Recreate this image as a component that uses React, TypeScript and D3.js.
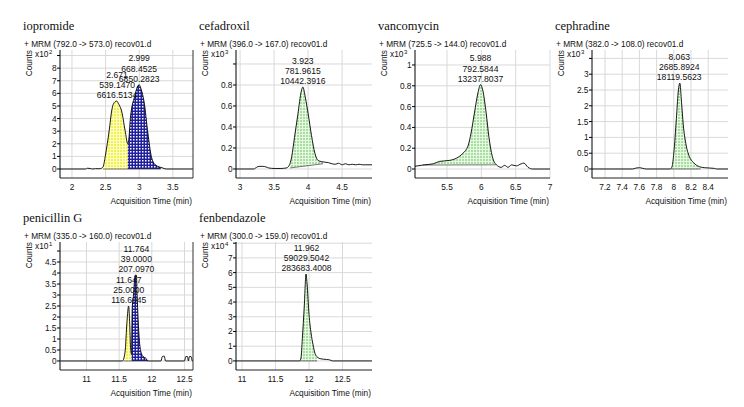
import React from 'react';
import * as d3 from 'd3';

const W = 744;
const H = 407;

// ---------- data (time in min, counts in the panel's x10^n unit) ----------
const iopromideTrace: [number, number][] = [
  [1.82, 0], [2.2, 0], [2.23, 0.06], [2.27, 0.04], [2.31, 0], [2.35, 0.03], [2.4, 0.02], [2.44, 0.06],
  [2.465, 0.2], [2.495, 1.0], [2.525, 2.0], [2.555, 3.1], [2.59, 4.6], [2.62, 5.2], [2.664, 5.39],
  [2.7, 5.1], [2.738, 4.6], [2.79, 3.06], [2.83, 2.0], [2.85, 2.6], [2.87, 4.1], [2.94, 5.9],
  [2.97, 6.5], [3.0, 6.68], [3.03, 6.3], [3.07, 5.4], [3.13, 2.8], [3.18, 1.0], [3.22, 0.45],
  [3.28, 0.2], [3.34, 0.1], [3.4, 0], [3.8, 0],
];
const cefadroxilTrace: [number, number][] = [
  [2.94, 0], [3.2, 0], [3.24, 0.015], [3.28, 0.025], [3.33, 0.025], [3.38, 0.02], [3.42, 0.01],
  [3.5, 0.005], [3.6, 0.005], [3.68, 0.01], [3.72, 0.03], [3.76, 0.12], [3.8, 0.3], [3.85, 0.52],
  [3.9, 0.74], [3.923, 0.78], [3.96, 0.68], [4.0, 0.53], [4.05, 0.32], [4.1, 0.15], [4.15, 0.08],
  [4.2, 0.07], [4.25, 0.065], [4.3, 0.06], [4.35, 0.05], [4.4, 0.045], [4.45, 0.055], [4.5, 0.04],
  [4.55, 0.05], [4.6, 0.04], [4.65, 0.045], [4.7, 0.04], [4.75, 0.045], [4.8, 0.04], [4.85, 0.04],
  [4.94, 0.04],
];
const vancomycinTrace: [number, number][] = [
  [5.03, 0.026], [5.17, 0.04], [5.3, 0.05], [5.39, 0.073], [5.54, 0.083], [5.64, 0.105], [5.73, 0.15],
  [5.81, 0.23], [5.85, 0.345], [5.9, 0.54], [5.95, 0.73], [5.988, 0.81], [6.02, 0.76], [6.07, 0.54],
  [6.11, 0.31], [6.16, 0.12], [6.22, 0.04], [6.29, 0.016], [6.34, 0.035], [6.39, 0.016], [6.44, 0.04],
  [6.51, 0.03], [6.58, 0.05], [6.62, 0.057], [6.68, 0.016], [6.75, 0], [7.0, 0],
];
const cephradineTrace: [number, number][] = [
  [7.05, 0], [7.52, 0], [7.56, 0.03], [7.6, 0.04], [7.64, 0.02], [7.68, 0], [7.96, 0], [7.98, 0.08],
  [8.0, 0.5], [8.03, 1.6], [8.05, 2.4], [8.07, 2.72], [8.09, 2.1], [8.11, 1.4], [8.14, 0.8],
  [8.18, 0.4], [8.23, 0.2], [8.3, 0.07], [8.36, 0.04], [8.42, 0.03], [8.47, 0.02], [8.5, 0], [8.63, 0],
];
const penicillinTrace: [number, number][] = [
  [10.6, 0], [11.55, 0], [11.59, 0.4], [11.62, 1.8], [11.645, 2.5], [11.66, 1.8], [11.675, 0.6],
  [11.69, 0.3], [11.7, 2.4], [11.72, 3.0], [11.745, 3.9], [11.764, 3.9], [11.775, 3.0], [11.79, 1.9],
  [11.81, 0.9], [11.84, 0.35], [11.87, 0.2], [11.91, 0.12], [11.94, 0], [12.14, 0], [12.16, 0.2],
  [12.19, 0.22], [12.21, 0], [12.5, 0], [12.52, 0.2], [12.545, 0.2], [12.56, 0], [12.575, 0.2],
  [12.6, 0.2], [12.62, 0], [12.63, 0],
];
const fenbendazoleTrace: [number, number][] = [
  [10.91, 0], [11.86, 0], [11.88, 0.2], [11.9, 1.5], [11.93, 3.8], [11.955, 5.9], [11.97, 5.3],
  [12.0, 3.15], [12.03, 1.9], [12.06, 1.1], [12.09, 0.5], [12.12, 0.28], [12.18, 0.14], [12.26, 0.1],
  [12.31, 0.07], [12.35, 0], [12.94, 0],
];

const compoundNames = ['iopromide', 'cefadroxil', 'vancomycin', 'cephradine', 'penicillin G', 'fenbendazole'];
const mrmLabels = [
  '+ MRM (792.0 -> 573.0) recov01.d',
  '+ MRM (396.0 -> 167.0) recov01.d',
  '+ MRM (725.5 -> 144.0) recov01.d',
  '+ MRM (382.0 -> 108.0) recov01.d',
  '+ MRM (335.0 -> 160.0) recov01.d',
  '+ MRM (300.0 -> 159.0) recov01.d',
];
const exponents = ['2', '3', '3', '3', '1', '4'];

const xDomains: [number, number][] = [
  [1.822, 3.8], [2.94, 4.94], [5.034, 7.0], [7.049, 8.63], [10.595, 12.63], [10.91, 12.94],
];
const yDomains: [number, number][] = [
  [-0.714, 9.44], [-0.0857, 1.133], [-0.0865, 1.144], [-0.285, 3.766], [-0.41, 5.41], [-0.616, 8.08],
];

const xTicks: number[][] = [
  [2, 2.5, 3, 3.5],
  [3, 3.5, 4, 4.5],
  [5.5, 6, 6.5, 7],
  [7.2, 7.4, 7.6, 7.8, 8, 8.2, 8.4],
  [11, 11.5, 12, 12.5],
  [11, 11.5, 12, 12.5],
];
const yTicks: number[][] = [
  [0, 1, 2, 3, 4, 5, 6, 7, 8, 9],
  [0, 0.2, 0.4, 0.6, 0.8, 1.0],
  [0, 0.2, 0.4, 0.6, 0.8, 1.0],
  [0, 0.5, 1, 1.5, 2, 2.5, 3, 3.5],
  [0, 0.5, 1, 1.5, 2, 2.5, 3, 3.5, 4, 4.5, 5],
  [0, 1, 2, 3, 4, 5, 6, 7, 8],
];
const yTickLabels: string[][] = [
  ['0', '1', '2', '3', '4', '5', '6', '7', '8', ''],
  ['0', '0.2', '0.4', '0.6', '0.8', ''],
  ['0', '0.2', '0.4', '0.6', '0.8', '1'],
  ['0', '0.5', '1', '1.5', '2', '2.5', '3', ''],
  ['0', '0.5', '1', '1.5', '2', '2.5', '3', '3.5', '4', '4.5', ''],
  ['0', '1', '2', '3', '4', '5', '6', '7', ''],
];

// integrated regions: [start, end, baseline at start, baseline at end]
type Region = { from: number; to: number; b0: number; b1: number; fill: string };
const integrations: Region[][] = [
  [
    { from: 2.465, to: 2.83, b0: 0, b1: 0, fill: 'yellow' },
    { from: 2.83, to: 3.32, b0: 0, b1: 0, fill: 'blue' },
  ],
  [{ from: 3.735, to: 4.22, b0: 0.01, b1: 0.05, fill: 'green' }],
  [{ from: 5.15, to: 6.22, b0: 0.038, b1: 0.04, fill: 'green' }],
  [{ from: 7.97, to: 8.31, b0: 0, b1: 0, fill: 'green' }],
  [
    { from: 11.57, to: 11.69, b0: 0, b1: 0, fill: 'yellow' },
    { from: 11.69, to: 11.94, b0: 0, b1: 0, fill: 'blue' },
  ],
  [{ from: 11.87, to: 12.12, b0: 0, b1: 0, fill: 'green' }],
];

// peak annotations: retention time, height, area
type Peak = { rt: number; lines: string[] };
const peakLabels: Peak[][] = [
  [
    { rt: 2.999, lines: ['2.999', '668.4525', '6850.2823'] },
    { rt: 2.671, lines: ['2.671', '539.1470', '6616.5134'] },
  ],
  [{ rt: 3.923, lines: ['3.923', '781.9615', '10442.3916'] }],
  [{ rt: 5.988, lines: ['5.988', '792.5844', '13237.8037'] }],
  [{ rt: 8.063, lines: ['8.063', '2685.8924', '18119.5623'] }],
  [
    { rt: 11.764, lines: ['11.764', '39.0000', '207.0970'] },
    { rt: 11.647, lines: ['11.647', '25.0000', '116.6045'] },
  ],
  [{ rt: 11.962, lines: ['11.962', '59029.5042', '283683.4008'] }],
];

const traces = [iopromideTrace, cefadroxilTrace, vancomycinTrace, cephradineTrace, penicillinTrace, fenbendazoleTrace];

// ---------- layout ----------
const colLeft = [60, 236, 415, 592];
const colRight = [193, 372, 550, 728];
const rowTop = [50, 242];
const PLOT_H = 128;
const SANS = "'Liberation Sans', Arial, Helvetica, sans-serif";
const SERIF = "'Liberation Serif', 'Times New Roman', serif";

function interp(trace: [number, number][], t: number): number {
  for (let i = 1; i < trace.length; i++) {
    const [t0, v0] = trace[i - 1];
    const [t1, v1] = trace[i];
    if (t >= t0 && t <= t1) return v0 + ((t - t0) / (t1 - t0 || 1)) * (v1 - v0);
  }
  return 0;
}

function Panel({ idx }: { idx: number }) {
  const col = idx % 4;
  const row = Math.floor(idx / 4);
  const left = colLeft[col];
  const right = colRight[col];
  const top = rowTop[row];
  const bottom = top + PLOT_H;
  const x = d3.scaleLinear().domain(xDomains[idx]).range([left, right]);
  const y = d3.scaleLinear().domain(yDomains[idx]).range([bottom, top]);
  const trace = traces[idx];
  const line = d3
    .line<[number, number]>()
    .x((d) => x(d[0]))
    .y((d) => y(d[1]))
    .curve(d3.curveMonotoneX);
  const clipId = `clip-${idx}`;

  const regions = integrations[idx].map((r, k) => {
    const pts: [number, number][] = [[r.from, interp(trace, r.from)]];
    trace.forEach((p) => {
      if (p[0] > r.from && p[0] < r.to) pts.push(p);
    });
    pts.push([r.to, interp(trace, r.to)]);
    const base = (t: number) => r.b0 + ((t - r.from) / (r.to - r.from)) * (r.b1 - r.b0);
    const area = d3
      .area<[number, number]>()
      .x((d) => x(d[0]))
      .y1((d) => y(d[1]))
      .y0((d) => y(base(d[0])))
      .curve(d3.curveMonotoneX);
    return (
      <g key={k}>
        <path d={area(pts) || ''} fill={`url(#pat-${r.fill})`} stroke="none" />
        <line x1={x(r.from)} x2={x(r.to)} y1={y(r.b0)} y2={y(r.b1)} stroke="#222" strokeWidth={0.6} />
      </g>
    );
  });

  const peakY = (rt: number) => {
    let best = 0;
    trace.forEach((p) => {
      if (Math.abs(p[0] - rt) < 0.04) best = Math.max(best, p[1]);
    });
    return y(best);
  };

  return (
    <g>
      <defs>
        <clipPath id={clipId}>
          <rect x={left} y={top} width={right - left} height={PLOT_H} />
        </clipPath>
      </defs>
      <text x={left - 37} y={top - 20} fontFamily={SERIF} fontSize={12.5} fill="#111">
        {compoundNames[idx]}
      </text>
      <text x={left - 36} y={top - 3} fontFamily={SANS} fontSize={8.3} fill="#111">
        {mrmLabels[idx]}
      </text>
      {/* grid */}
      {yTicks[idx].map((v, k) => (
        <line key={`gy${k}`} x1={left} x2={right} y1={y(v)} y2={y(v)} stroke="#d9d9d9" strokeWidth={1} />
      ))}
      {xTicks[idx].map((v, k) => (
        <line key={`gx${k}`} x1={x(v)} x2={x(v)} y1={top} y2={bottom} stroke="#d9d9d9" strokeWidth={1} />
      ))}
      {/* fills and trace */}
      <g clipPath={`url(#${clipId})`}>
        {regions}
        <path d={line(trace) || ''} fill="none" stroke="#000" strokeWidth={0.9} />
      </g>
      {/* axes */}
      <line x1={left} x2={left} y1={top} y2={bottom} stroke="#000" strokeWidth={1} />
      <line x1={left} x2={right} y1={bottom} y2={bottom} stroke="#222" strokeWidth={1} />
      {col === 0 && <line x1={right} x2={right} y1={top} y2={bottom} stroke="#333" strokeWidth={1} />}
      {yTicks[idx].map((v, k) => (
        <g key={`ty${k}`}>
          <line x1={left - 3} x2={left} y1={y(v)} y2={y(v)} stroke="#000" strokeWidth={1} />
          <text x={left - 3.5} y={y(v) + 3} textAnchor="end" fontFamily={SANS} fontSize={8.3} fill="#111">
            {yTickLabels[idx][k]}
          </text>
        </g>
      ))}
      {xTicks[idx].map((v, k) => (
        <text key={`tx${k}`} x={x(v)} y={bottom + 12} textAnchor="middle" fontFamily={SANS} fontSize={8.3} fill="#111">
          {String(v)}
        </text>
      ))}
      <text x={left - 25} y={top + 7} fontFamily={SANS} fontSize={8.3} fill="#111">
        x10
      </text>
      <text x={left - 11} y={top + 4} fontFamily={SANS} fontSize={6} fill="#111">
        {exponents[idx]}
      </text>
      <text
        transform={`translate(${left - 28},${top}) rotate(-90)`}
        textAnchor="end"
        fontFamily={SANS}
        fontSize={8.3}
        fill="#111"
      >
        Counts
      </text>
      <text x={right - 1} y={bottom + 26} textAnchor="end" fontFamily={SANS} fontSize={8.3} fill="#111">
        Acquisition Time (min)
      </text>
      {/* peak labels */}
      {peakLabels[idx].map((pk, k) => {
        const py = peakY(pk.rt);
        const n = pk.lines.length;
        return (
          <g key={`pk${k}`}>
            {pk.lines.map((s, j) => (
              <text
                key={j}
                x={x(pk.rt)}
                y={py - 3 - (n - 1 - j) * 10.2}
                textAnchor="middle"
                fontFamily={SANS}
                fontSize={8.6}
                fill="#111"
              >
                {s}
              </text>
            ))}
          </g>
        );
      })}
    </g>
  );
}

export default function App() {
  return (
    <svg
      width={W}
      height={H}
      viewBox={`0 0 ${W} ${H}`}
      style={{ position: 'absolute', left: 0, top: 0, background: '#fff', display: 'block' }}
    >
      <defs>
        <pattern id="pat-green" width={3} height={3} patternUnits="userSpaceOnUse">
          <rect width={3} height={3} fill="#e6f7e2" />
          <rect width={2} height={2} fill="#a9dda2" />
        </pattern>
        <pattern id="pat-yellow" width={3} height={3} patternUnits="userSpaceOnUse">
          <rect width={3} height={3} fill="#ffffc8" />
          <rect width={2} height={2} fill="#f2f04a" />
        </pattern>
        <pattern id="pat-blue" width={3} height={3} patternUnits="userSpaceOnUse">
          <rect width={3} height={3} fill="#1f1f9c" />
          <rect x={1} y={1} width={1.5} height={1.5} fill="#ffffff" />
        </pattern>
      </defs>
      <rect width={W} height={H} fill="#fff" />
      {compoundNames.map((_, i) => (
        <Panel key={i} idx={i} />
      ))}
    </svg>
  );
}
